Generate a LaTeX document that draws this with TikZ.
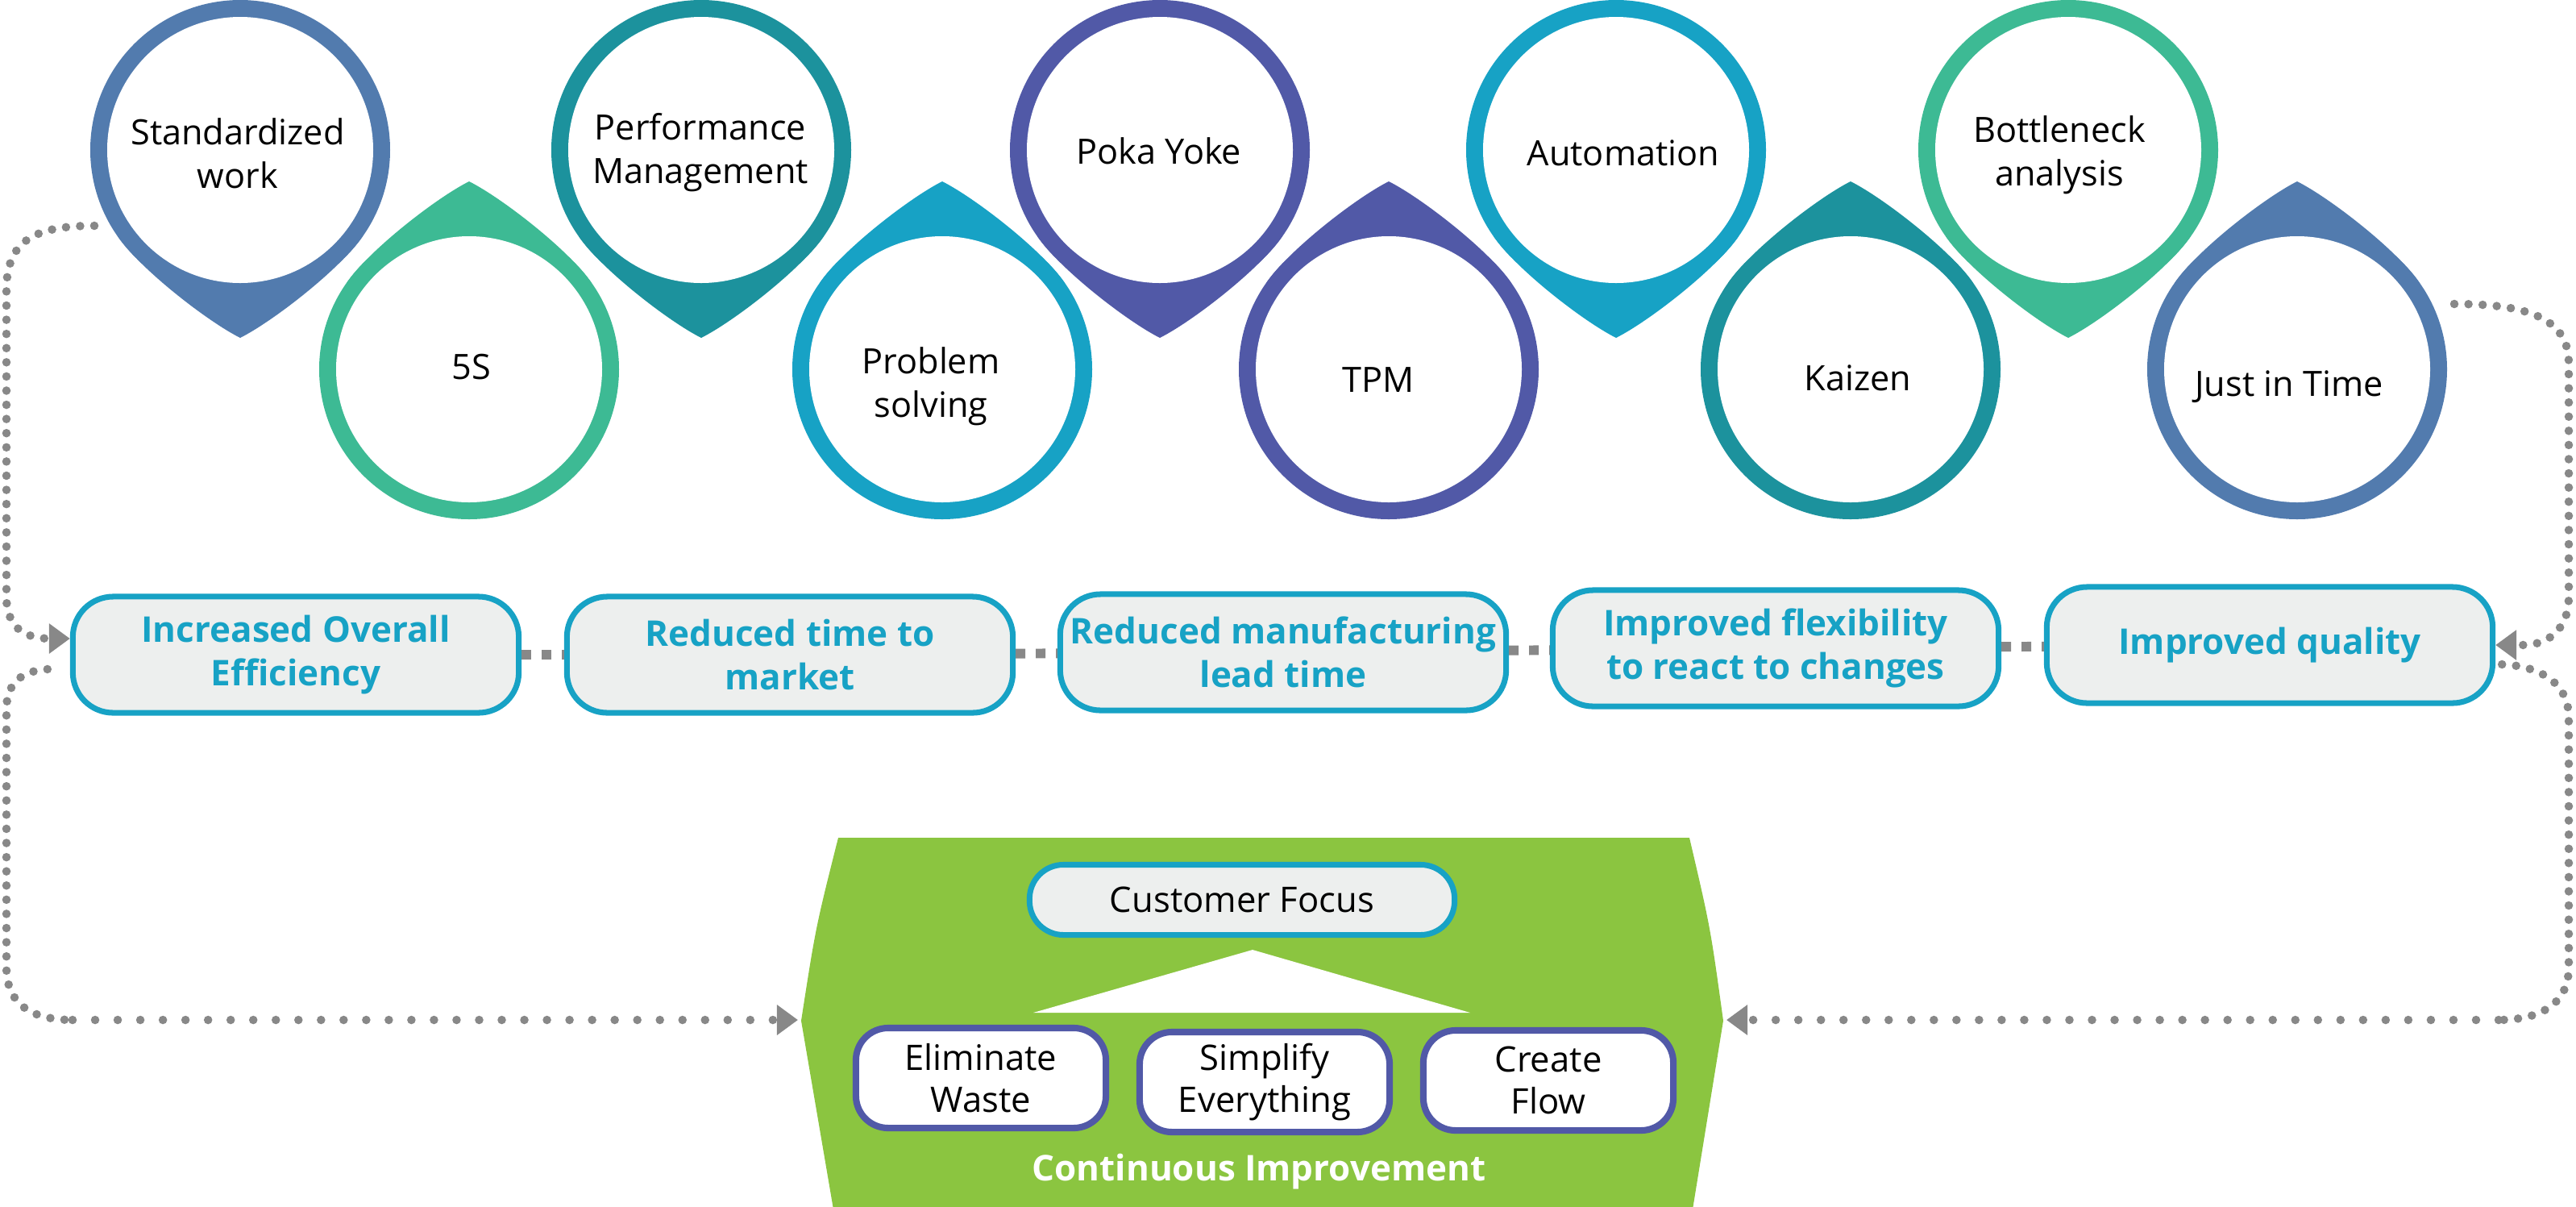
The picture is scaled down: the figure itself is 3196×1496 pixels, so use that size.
\documentclass[tikz,border=0pt]{standalone}
\usepackage{fontspec}
\setmainfont{Open Sans}
\usetikzlibrary{arrows.meta,calc}
\definecolor{cblue}{RGB}{82,123,174}
\definecolor{cmint}{RGB}{61,186,148}
\definecolor{cteal}{RGB}{28,146,157}
\definecolor{ccyan}{RGB}{23,162,197}
\definecolor{cindigo}{RGB}{81,89,167}
\definecolor{lgray}{RGB}{237,239,238}
\definecolor{cgreen}{RGB}{139,197,64}
\definecolor{dotgray}{RGB}{136,136,136}

\begin{document}
\begin{tikzpicture}[x=0.01cm, y=-0.01cm,
  droptext/.style={align=center, font=\fontsize{12.3}{15.4}\selectfont},
  benefit/.style={rectangle, rounded corners=0.5cm, draw=ccyan, line width=2pt, fill=lgray, minimum width=5.53cm, minimum height=1.44cm, align=center, text=ccyan, font=\bfseries\fontsize{12.5}{15.4}\selectfont},
  focus/.style={rectangle, rounded corners=0.42cm, draw=ccyan, line width=2pt, fill=lgray, minimum width=5.27cm, minimum height=0.87cm, font=\fontsize{12.4}{15}\selectfont},
  pillar/.style={rectangle, rounded corners=0.4cm, draw=cindigo, line width=2.3pt, fill=white, minimum width=3.1cm, minimum height=1.24cm, align=center, font=\fontsize{12.4}{14.8}\selectfont},
  dotline/.style={draw=dotgray, line width=3pt, line cap=round, dash pattern=on 0pt off 7.97pt},
  dotdense/.style={dotline, dash pattern=on 0pt off 5pt},
  sqline/.style={draw=dotgray, line width=3.4pt, dash pattern=on 3.4pt off 3.7pt},
  arr/.style={-{Triangle[length=0.26cm, width=0.36cm]}}]
\useasboundingbox (0,0) rectangle (3196,1496);

% tools: drops up and down
\foreach \n/\x/\y/\tx/\ty/\dir/\col/\lbl in {
  sw/298/186/295/190/1/cblue/{Standardized\\work},
  fives/582/458/585/455/-1/cmint/{5S},
  pm/870/186/869/189/1/cteal/{Performance\\Management},
  ps/1169/458/1155/479/-1/ccyan/{Problem\\solving},
  py/1439/186/1438/187/1/cindigo/{Poka Yoke},
  tpm/1723/458/1710/471/-1/cindigo/{TPM},
  auto/2005/186/2014/190/1/ccyan/{Automation},
  kai/2296/458/2305/469/-1/cteal/{Kaizen},
  bn/2566/186/2555/192/1/cmint/{Bottleneck\\analysis},
  jit/2850/458/2840/480/-1/cblue/{Just in Time}}{
  \begin{scope}[shift={(\x,\y)}, yscale=\dir]
    \fill[\col] (0,0) -- (152,107) .. controls (124,148) and (40,213) .. (0,233) .. controls (-40,213) and (-124,148) .. (-152,107) -- cycle;
    \fill[\col] (0,0) circle[radius=186];
    \fill[white] (0,0) circle[radius=165];
  \end{scope}
  \node[droptext] (\n) at (\tx,\ty) {\lbl};
}

% benefits
\node[benefit] (oee) at (367,812) {Increased Overall\\Efficiency};
\node[benefit] (ttm) at (980,812) {Reduced time to\\market};
\node[benefit] (mlt) at (1592,809) {Reduced manufacturing\\lead time};
\node[benefit] (flex) at (2203,804) {Improved flexibility\\to react to changes};
\node[benefit] (qual) at (2816,800) {Improved quality};
\draw[sqline] (oee) -- (ttm);
\draw[sqline] (ttm) -- (mlt);
\draw[sqline] (mlt) -- (flex);
\draw[sqline] (flex) -- (qual);

% continuous improvement block
\fill[cgreen] (1034,1500) -- (994,1266) .. controls (1012,1150) .. (1040,1039) -- (2096,1039) .. controls (2122,1150) .. (2138,1266) -- (2100,1500) -- cycle;
\coordinate (gl) at (990,1265);
\coordinate (gr) at (2142,1265);
\fill[white] (1554,1178) -- (1282,1256) -- (1824,1256) -- cycle;
\node[focus] (cf) at (1541,1116) {Customer Focus};
\node[pillar] (ew) at (1217,1337) {Eliminate\\Waste};
\node[pillar] (se) at (1569,1342) {Simplify\\Everything};
\node[pillar] (cfl) at (1921,1340) {Create\\Flow};
\node[text=white, font=\bfseries\fontsize{12.5}{15}\selectfont] (ci) at (1562,1453) {Continuous Improvement};

% loops
\coordinate (bl) at (90,1265);
\coordinate (br) at (3100,1265);
\draw[dotdense, arr] ($(sw)+(-178,90)$) .. controls (40,280) and (8,300) .. (8,360) -- (8,740) .. controls (8,776) and (28,792) .. ($(oee.west)+(0,-20)$);
\draw[dotdense] ($(oee.west)+(-28,18)$) .. controls (28,832) and (8,846) .. (8,880) -- (8,1200) .. controls (8,1246) and (40,1265) .. (bl);
\draw[dotline, arr] (bl) -- (gl);
\draw[dotdense, arr] ($(jit)+(205,-103)$) .. controls (3125,377) and (3187,390) .. (3187,450) -- (3187,740) .. controls (3187,780) and (3162,800) .. (3130,800) -- (qual.east);
\draw[dotdense] ($(qual.east)+(8,24)$) .. controls (3150,826) and (3187,846) .. (3187,890) -- (3187,1200) .. controls (3187,1246) and (3150,1265) .. (br);
\draw[dotline, arr] (br) -- (gr);
\end{tikzpicture}
\end{document}
